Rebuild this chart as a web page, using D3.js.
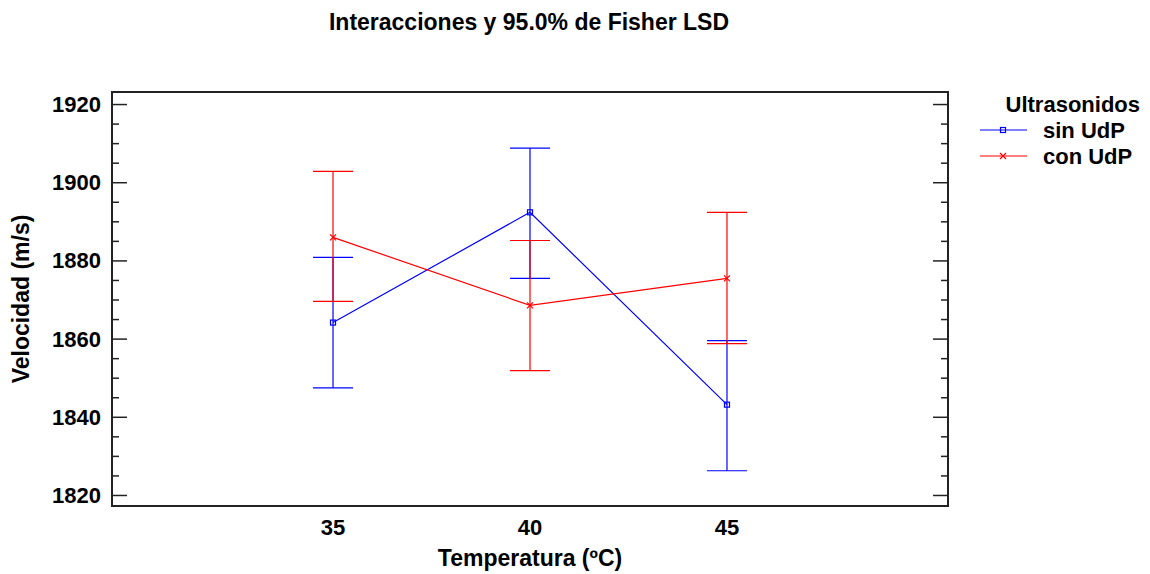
<!DOCTYPE html>
<html>
<head>
<meta charset="utf-8">
<script src="https://cdn.jsdelivr.net/npm/d3@7"></script>
<style>
  body { margin: 0; background: #fff; }
  text { font-family: "Liberation Sans", Arial, sans-serif; font-weight: bold; fill: #000; }
</style>
</head>
<body>
<div class="chart"></div>
<script>
// chart size
const WIDTH = 1150;
const HEIGHT = 574;

// data
const temps = [35, 40, 45];
const seriesNames = ["sin UdP", "con UdP"];
const sinMeans = [1864.1, 1892.3, 1843.1];
const sinLow = [1847.4, 1875.4, 1826.2];
const sinHigh = [1880.8, 1908.7, 1859.5];
const conMeans = [1885.9, 1868.5, 1875.4];
const conLow = [1869.5, 1851.8, 1858.7];
const conHigh = [1902.8, 1885.1, 1892.3];
const yTicks = [1820, 1840, 1860, 1880, 1900, 1920];
const yMinor = d3.range(1820, 1921, 5);

const plot = { left: 112, right: 948, top: 92, bottom: 506 };

const xScale = d3.scaleLinear().domain([29.39, 50.61]).range([plot.left, plot.right]);
const yScale = d3.scaleLinear().domain([1817.18, 1923.08]).range([plot.bottom, plot.top]);

const svg = d3.select(".chart")
    .append("svg")
    .attr("width", WIDTH)
    .attr("height", HEIGHT);

// title
svg.append("text")
    .attr("x", 529)
    .attr("y", 30)
    .attr("text-anchor", "middle")
    .style("font-size", "23px")
    .text("Interacciones y 95.0% de Fisher LSD");

// y axis ticks (left, inward) and right mirror
const yAxisL = d3.axisRight(yScale).tickValues(yMinor).tickSize(7).tickFormat("");
const yAxisR = d3.axisLeft(yScale).tickValues(yMinor).tickSize(7).tickFormat("");
const gl = svg.append("g").attr("transform", `translate(${plot.left},0)`).call(yAxisL);
const gr = svg.append("g").attr("transform", `translate(${plot.right},0)`).call(yAxisR);
[gl, gr].forEach(g => {
    g.select(".domain").remove();
    g.selectAll(".tick line")
        .attr("stroke", "#222")
        .attr("stroke-width", 1.5)
        .attr("x2", d => (yTicks.includes(d) ? 15 : 7) * (g === gl ? 1 : -1));
});

// y tick labels
svg.append("g").selectAll("text")
    .data(yTicks)
    .join("text")
    .attr("x", 101)
    .attr("y", d => yScale(d))
    .attr("dy", "0.36em")
    .attr("text-anchor", "end")
    .style("font-size", "22px")
    .text(d => d);

// x tick labels (no tick marks)
svg.append("g").selectAll("text")
    .data(temps)
    .join("text")
    .attr("x", d => xScale(d))
    .attr("y", 535)
    .attr("text-anchor", "middle")
    .style("font-size", "22px")
    .text(d => d);

// frame
svg.append("rect")
    .attr("x", plot.left)
    .attr("y", plot.top)
    .attr("width", plot.right - plot.left)
    .attr("height", plot.bottom - plot.top)
    .attr("fill", "none")
    .attr("stroke", "#222")
    .attr("stroke-width", 2);

// axis titles
svg.append("text")
    .attr("x", 530)
    .attr("y", 566)
    .attr("text-anchor", "middle")
    .style("font-size", "23px")
    .text("Temperatura (ºC)");

svg.append("text")
    .attr("transform", `translate(29,${(plot.top + plot.bottom) / 2}) rotate(-90)`)
    .attr("text-anchor", "middle")
    .style("font-size", "23px")
    .text("Velocidad (m/s)");

const series = [
    { name: seriesNames[0], color: "#0000ff", mean: sinMeans, low: sinLow, high: sinHigh, marker: "square" },
    { name: seriesNames[1], color: "#ff0000", mean: conMeans, low: conLow, high: conHigh, marker: "cross" }
];

function drawMarker(g, type, x, y, color) {
    if (type === "square") {
        g.append("rect")
            .attr("x", x - 2.5).attr("y", y - 2.5)
            .attr("width", 5).attr("height", 5)
            .attr("fill", "none").attr("stroke", color).attr("stroke-width", 1.2);
    } else {
        g.append("path")
            .attr("d", `M${x - 3},${y - 3}L${x + 3},${y + 3}M${x - 3},${y + 3}L${x + 3},${y - 3}`)
            .attr("stroke", color).attr("stroke-width", 1.2);
    }
}

const line = d3.line()
    .x((d, i) => xScale(temps[i]))
    .y(d => yScale(d));

series.forEach(s => {
    const g = svg.append("g");
    // error bars
    temps.forEach((t, i) => {
        const x = xScale(t);
        g.append("line")
            .attr("x1", x).attr("x2", x)
            .attr("y1", yScale(s.low[i])).attr("y2", yScale(s.high[i]))
            .attr("stroke", s.color).attr("stroke-width", 1.2);
        [s.low[i], s.high[i]].forEach(v => {
            g.append("line")
                .attr("x1", x - 20).attr("x2", x + 20)
                .attr("y1", yScale(v)).attr("y2", yScale(v))
                .attr("stroke", s.color).attr("stroke-width", 1.2);
        });
    });
    g.append("path")
        .datum(s.mean)
        .attr("d", line)
        .attr("fill", "none")
        .attr("stroke", s.color)
        .attr("stroke-width", 1.2);
    s.mean.forEach((v, i) => drawMarker(g, s.marker, xScale(temps[i]), yScale(v), s.color));
});

// legend
svg.append("text")
    .attr("x", 1140)
    .attr("y", 112)
    .attr("text-anchor", "end")
    .style("font-size", "22px")
    .text("Ultrasonidos");

series.forEach((s, i) => {
    const y = 130 + i * 26;
    const g = svg.append("g");
    g.append("line")
        .attr("x1", 980).attr("x2", 1027)
        .attr("y1", y).attr("y2", y)
        .attr("stroke", s.color).attr("stroke-width", 1.2);
    drawMarker(g, s.marker, 1003, y, s.color);
    g.append("text")
        .attr("x", 1043)
        .attr("y", y + 8)
        .style("font-size", "22px")
        .text(s.name);
});
</script>
</body>
</html>
